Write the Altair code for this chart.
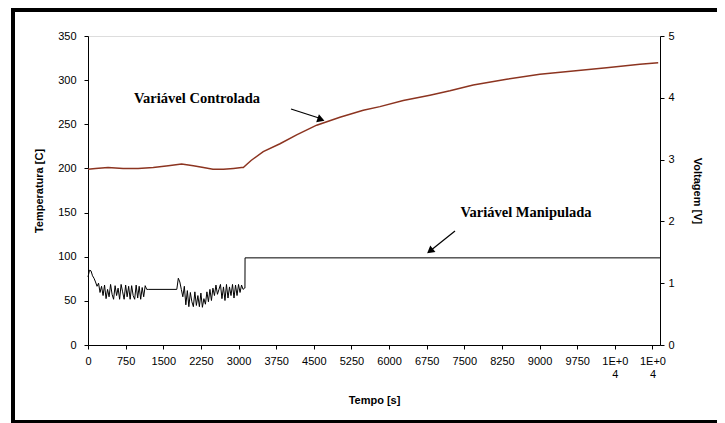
import altair as alt
import pandas as pd
import numpy as np

# ---- data ----
# Controlled variable (temperature, left axis)
temp_t = [0, 150, 400, 700, 1000, 1300, 1600, 1866, 2100, 2300, 2490, 2700, 2900, 3060,
          3095, 3250, 3493, 3826, 4158, 4557, 5021, 5486, 5818, 6283, 6814, 7213, 7677,
          8342, 9006, 9670, 10335, 10999, 11364]
temp_v = [199, 200, 201, 200, 200, 201, 203, 205, 203, 201, 199, 199, 200, 201,
          201, 209, 219, 228, 238, 249, 258, 266, 270, 277, 283, 288, 294.5,
          301, 306.6, 310.3, 314, 318, 319.7]

# Manipulated variable (voltage, right axis)
volt_seg1 = [1.10, 1.21, 1.20, 1.12, 1.08, 1.02, 0.95, 1.00, 0.85, 0.95, 0.80, 0.97, 0.75,
             0.90, 0.78, 0.98, 0.82, 0.74, 0.96, 0.80, 0.92, 0.74, 0.98, 0.86, 0.74, 0.97,
             0.78, 0.95, 0.74, 0.96, 0.80, 0.74, 0.97, 0.76, 0.95, 0.74, 0.93, 0.78, 0.96,
             0.90]
volt_hold_t = [1200, 1770]
volt_hold_v = [0.90, 0.90]
volt_seg2 = [0.90, 1.08, 1.02, 0.90, 0.78, 0.95, 0.65, 0.88, 0.62, 0.85, 0.70, 0.62, 0.86,
             0.64, 0.80, 0.62, 0.84, 0.61, 0.75, 0.66, 0.86, 0.70, 0.90, 0.72, 0.92, 0.80,
             0.97, 0.82, 0.90, 0.98, 0.75, 0.94, 0.72, 0.98, 0.76, 0.94, 0.80, 0.98, 0.76,
             0.97, 0.80, 0.98, 0.85, 0.97, 0.90, 0.92]
volt_step_t = [3128, 3130, 11400]
volt_step_v = [0.92, 1.41, 1.41]

x_ticks = [0, 750, 1500, 2250, 3000, 3750, 4500, 5250, 6000, 6750, 7500, 8250, 9000,
           9750, 10500, 11250]
left_ticks = [0, 50, 100, 150, 200, 250, 300, 350]
right_ticks = [0, 1, 2, 3, 4, 5]

label_controlled = "Variável Controlada"
label_manipulated = "Variável Manipulada"

# ---- tables ----
temp_df = pd.DataFrame({"t": temp_t, "T": temp_v})
seg1_t = list(np.arange(len(volt_seg1)) * 30)
seg2_t = list(1770 + np.arange(len(volt_seg2)) * 30)
volt_df = pd.DataFrame({
    "t": seg1_t + volt_hold_t + seg2_t + volt_step_t,
    "V": volt_seg1 + volt_hold_v + volt_seg2 + volt_step_v,
})
volt_df = volt_df.sort_values("t", kind="stable").reset_index(drop=True)
volt_df["order"] = range(len(volt_df))

W, H = 572, 309
FONT = "Liberation Sans"
SERIF = "Liberation Serif"

x_scale = alt.Scale(domain=[0, 11400], nice=False, zero=False)
x_axis = alt.Axis(
    values=x_ticks, title="Tempo [s]", grid=False,
    labelExpr="datum.value >= 10000 ? ['1E+0', '4'] : format(datum.value, 'd')",
    labelFont=FONT, labelFontSize=11, labelColor="black", labelPadding=6,
    labelLineHeight=13, labelFlush=False, labelOverlap=False,
    titleFont=FONT, titleFontSize=11, titleFontWeight="bold", titleColor="black",
    titlePadding=15, tickSize=4, tickColor="black", domainColor="black",
)

temp_line = alt.Chart(temp_df).mark_line(color="#8c3420", strokeWidth=1.5).encode(
    x=alt.X("t:Q", scale=x_scale, axis=x_axis),
    y=alt.Y("T:Q", scale=alt.Scale(domain=[0, 350], nice=False),
            axis=alt.Axis(values=left_ticks, title="Temperatura [C]", grid=False,
                          orient="left", labelFont=FONT, labelFontSize=11,
                          labelColor="black", labelPadding=8,
                          titleFont=FONT, titleFontSize=11, titleFontWeight="bold",
                          titleColor="black", titlePadding=13, tickSize=4,
                          tickColor="black", domainColor="black")),
)

volt_line = alt.Chart(volt_df).mark_line(color="black", strokeWidth=1).encode(
    x=alt.X("t:Q", scale=x_scale, axis=x_axis),
    y=alt.Y("V:Q", scale=alt.Scale(domain=[0, 5], nice=False),
            axis=alt.Axis(values=right_ticks, title="Voltagem [V]", grid=False,
                          orient="right", labelFont=FONT, labelFontSize=11,
                          labelColor="black", labelPadding=4,
                          titleFont=FONT, titleFontSize=11, titleFontWeight="bold",
                          titleColor="black", titlePadding=17, tickSize=4,
                          tickColor="black", domainColor="black")),
    order="order:Q",
)

ann = pd.DataFrame({"a": [0]})
base = alt.Chart(ann)

text1 = base.mark_text(text=label_controlled, font=SERIF, fontSize=14.5,
                       fontWeight="bold", align="center", baseline="middle",
                       color="black").encode(x=alt.value(109), y=alt.value(63))
text2 = base.mark_text(text=label_manipulated, font=SERIF, fontSize=14.5,
                       fontWeight="bold", align="center", baseline="middle",
                       color="black").encode(x=alt.value(438), y=alt.value(177))

arrow1 = base.mark_rule(color="black", strokeWidth=1.2).encode(
    x=alt.value(203), y=alt.value(73), x2=alt.value(234), y2=alt.value(83))
head1 = base.mark_point(shape="triangle-up", filled=True, color="black", size=70,
                        angle=109, opacity=1).encode(x=alt.value(233), y=alt.value(83.5))
arrow2 = base.mark_rule(color="black", strokeWidth=1.2).encode(
    x=alt.value(367), y=alt.value(195), x2=alt.value(342), y2=alt.value(215))
head2 = base.mark_point(shape="triangle-up", filled=True, color="black", size=70,
                        angle=232, opacity=1).encode(x=alt.value(342), y=alt.value(215))

# outer frame drawn as three thick rules (pixel decoration)
frame_top = base.mark_rule(color="black", strokeWidth=4).encode(
    x=alt.value(-77), x2=alt.value(700), y=alt.value(-26))
frame_left = base.mark_rule(color="black", strokeWidth=4).encode(
    x=alt.value(-75), y=alt.value(-28), y2=alt.value(390))
frame_bottom = base.mark_rule(color="black", strokeWidth=4).encode(
    x=alt.value(-77), x2=alt.value(700), y=alt.value(386))

chart = alt.layer(
    temp_line, volt_line, text1, text2, arrow1, head1, arrow2, head2,
    frame_top, frame_left, frame_bottom
).resolve_scale(y="independent").properties(
    width=W, height=H,
    autosize=alt.AutoSizeParams(type="none"),
    padding={"left": 80, "top": 28, "right": 57, "bottom": 80},
).configure_view(stroke="black", strokeWidth=1).configure(background="white")

chart.save("out.html", embed_options={"renderer": "svg", "actions": False})
